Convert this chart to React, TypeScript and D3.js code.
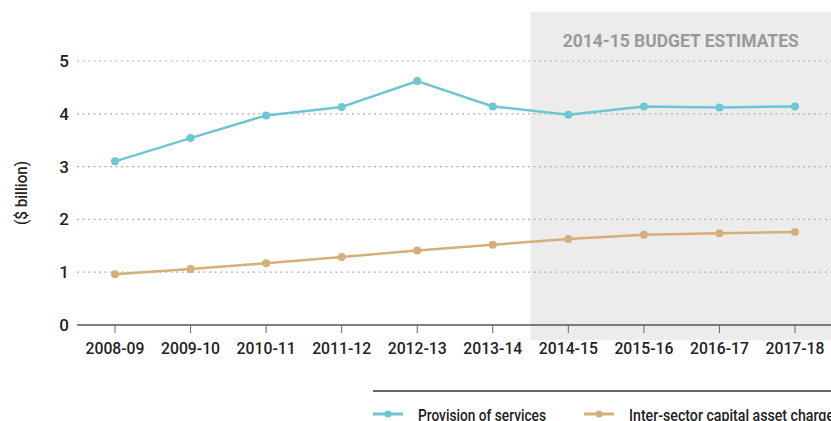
import React from "react";
import * as d3 from "d3";

const categories = ["2008-09","2009-10","2010-11","2011-12","2012-13","2013-14","2014-15","2015-16","2016-17","2017-18"];
const provision = [3.1, 3.54, 3.97, 4.13, 4.62, 4.14, 3.98, 4.14, 4.12, 4.14];
const capitalCharge = [0.96, 1.06, 1.17, 1.29, 1.41, 1.52, 1.63, 1.71, 1.74, 1.76];
const yTicks = [0, 1, 2, 3, 4, 5];
const seriesNames = ["Provision of services", "Inter-sector capital asset charge"];
const shadedFrom = "2014-15";
const shadedLabel = "2014-15 BUDGET ESTIMATES";

const W = 831, H = 421;
const FONT = "Roboto, 'DejaVu Sans Condensed', Arial, sans-serif";
const TEAL = "#6ec6d5";
const TAN = "#d5af79";

export default function App() {
  const x = d3.scalePoint<string>().domain(categories).range([115, 795]);
  const y = d3.scaleLinear().domain([0, 5]).range([325, 61]);
  const step = x.step();
  const line = d3.line<number>().x((_, i) => x(categories[i])!).y(d => y(d));
  const shadeX = x(shadedFrom)! - step / 2;

  const series = [
    { name: seriesNames[0], data: provision, color: TEAL },
    { name: seriesNames[1], data: capitalCharge, color: TAN },
  ];
  const legendX = [373, 584];

  return (
    <svg width={W} height={H} style={{ position: "absolute", left: 0, top: 0, display: "block" }} fontFamily={FONT}>
      <rect x={shadeX} y={12} width={W - shadeX} height={328} fill="#ececec" />
      <text x={(shadeX + W) / 2} y={47} textAnchor="middle" fill="#9a9a9a" fontWeight="bold" fontSize={19} textLength={236} lengthAdjust="spacingAndGlyphs">{shadedLabel}</text>
      {yTicks.filter(t => t > 0).map(t => (
        <line key={t} x1={77} x2={W} y1={y(t)} y2={y(t)} stroke="#b0b0b0" strokeWidth={1.2} strokeDasharray="2,3.5" />
      ))}
      {yTicks.map(t => (
        <text key={t} x={69} y={y(t) + 6} textAnchor="end" fontSize={17} fontWeight={500} fill="#222">{t}</text>
      ))}
      <line x1={77} x2={W} y1={y(0)} y2={y(0)} stroke="#555" strokeWidth={1.3} />
      {categories.map(c => (
        <g key={c}>
          <line x1={x(c)!} x2={x(c)!} y1={y(0)} y2={y(0) + 8} stroke="#666" strokeWidth={1} />
          <text x={x(c)!} y={354} textAnchor="middle" fontSize={17} fontWeight={500} fill="#222" textLength={59} lengthAdjust="spacingAndGlyphs">{c}</text>
        </g>
      ))}
      <text transform={`translate(27,193) rotate(-90)`} textAnchor="middle" fontSize={16} fontWeight={500} fill="#222" textLength={64} lengthAdjust="spacingAndGlyphs">($ billion)</text>
      {series.map(s => (
        <g key={s.name}>
          <path d={line(s.data)!} fill="none" stroke={s.color} strokeWidth={2.5} />
          {s.data.map((v, i) => (
            <circle key={i} cx={x(categories[i])!} cy={y(v)} r={4} fill={s.color} />
          ))}
        </g>
      ))}
      <line x1={373} x2={W} y1={391} y2={391} stroke="#333" strokeWidth={1.3} />
      {series.map((s, i) => (
        <g key={s.name}>
          <line x1={legendX[i]} x2={legendX[i] + 30} y1={414} y2={414} stroke={s.color} strokeWidth={3} />
          <circle cx={legendX[i] + 15} cy={414} r={3.5} fill={s.color} />
          <text x={legendX[i] + 45} y={421} fontSize={17} fontWeight={500} fill="#222" textLength={i === 0 ? 128 : 205} lengthAdjust="spacingAndGlyphs">{s.name}</text>
        </g>
      ))}
    </svg>
  );
}
